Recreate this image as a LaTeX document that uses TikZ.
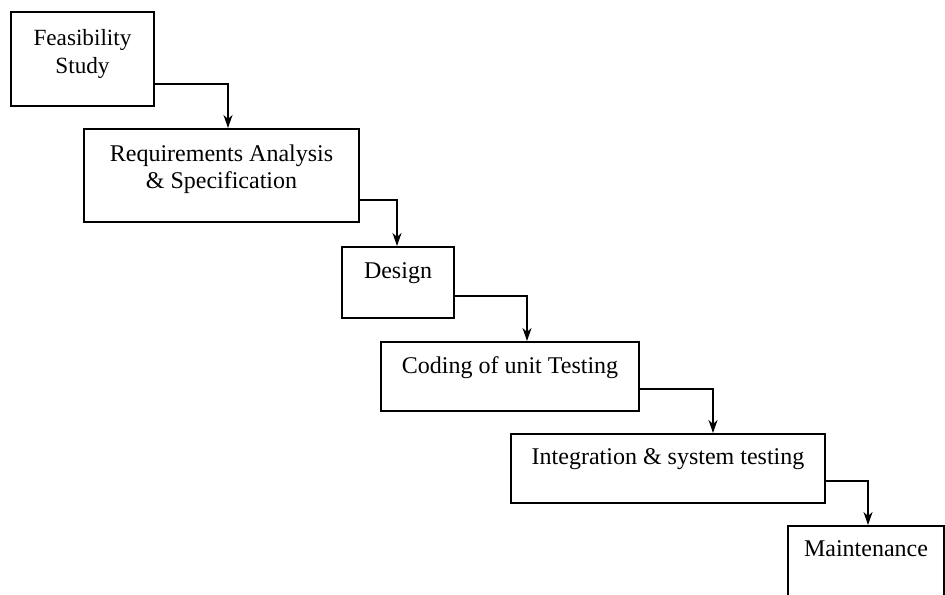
\documentclass[tikz,border=0pt]{standalone}
\usepackage{fontspec}
\setmainfont{Liberation Serif}
\usetikzlibrary{positioning,calc,arrows.meta}

\begin{document}
\begin{tikzpicture}[x=0.5pt,y=-0.5pt,
	phase/.style={draw,line width=1pt,anchor=north west,inner sep=0pt},
	lbl/.style={anchor=north,align=center,inner sep=0pt,font=\fontsize{12}{13.5}\selectfont},
	flow/.style={line width=0.8pt,-{Stealth[length=6.5pt,width=4.5pt,inset=2pt]}}]
	%% frame of the page
	\useasboundingbox (0,0) rectangle (945,594);
	\clip (0,0) rectangle (945,594);

	\def\up{23} % height of the outgoing line above a box bottom

	% the phases
	\node[phase,minimum width=71.5pt,minimum height=47pt] (feas) at (10,11) {};
	\node[phase,minimum width=137.5pt,minimum height=46.5pt] (req) at (83,128) {};
	\node[phase,minimum width=56pt,minimum height=35.5pt] (des) at (341,246) {};
	\node[phase,minimum width=129pt,minimum height=34.5pt] (cod) at (380,341) {};
	\node[phase,minimum width=157pt,minimum height=34.5pt] (integ) at (510,433) {};
	\node[phase,minimum width=78pt,minimum height=42.5pt] (maint) at (787,525) {};

	% texts at the top of each box
	\node[lbl,below=9pt of feas.north,font=\fontsize{11.6}{14}\selectfont] (feasT) {Feasibility\\Study};
	\node[lbl,below=8pt of req.north] (reqT) {Requirements Analysis\\\& Specification};
	\node[lbl,below=8pt of des.north] (desT) {Design};
	\node[lbl,below=7.5pt of cod.north] (codT) {Coding of unit Testing};
	\node[lbl,below=7.5pt of integ.north] (integT) {Integration \& system testing};
	\node[lbl,below=7.5pt of maint.north] (maintT) {Maintenance};

	% steps down the waterfall
	\draw[flow] ($(feas.south east)+(0,-\up)$) -| ($(req.north west)+(145,0)$);
	\draw[flow] ($(req.south east)+(0,-\up)$) -| ($(des.north west)+(56,0)$);
	\draw[flow] ($(des.south east)+(0,-\up)$) -| ($(cod.north west)+(147,0)$);
	\draw[flow] ($(cod.south east)+(0,-\up)$) -| ($(integ.north west)+(203,0)$);
	\draw[flow] ($(integ.south east)+(0,-\up)$) -| ($(maint.north west)+(81,0)$);

\end{tikzpicture}
\end{document}
